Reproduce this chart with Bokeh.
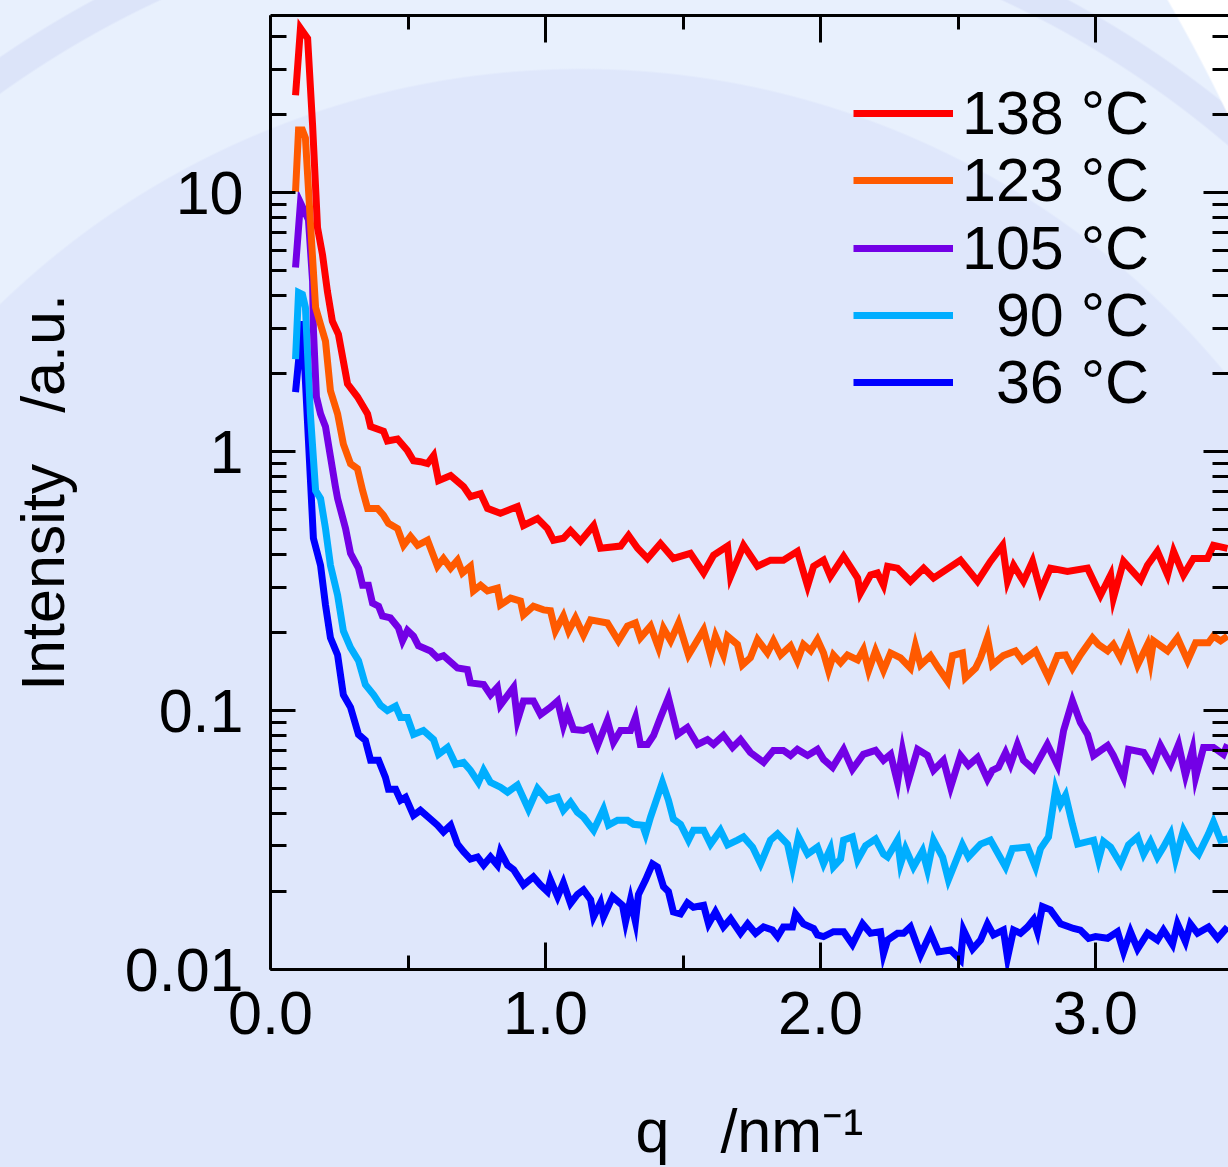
from bokeh.plotting import figure
from bokeh.models import (Range1d, LinearAxis, LogAxis, FixedTicker, NumeralTickFormatter,
                          CustomJSTickFormatter, Legend, LegendItem, GlobalInlineStyleSheet)
from bokeh.embed import file_html
from bokeh.resources import INLINE

# ---------------- data ----------------
q_138 = [0.091, 0.109, 0.135, 0.153, 0.171, 0.189, 0.207, 0.225, 0.247, 0.280,
         0.316, 0.353, 0.364, 0.411, 0.425, 0.462, 0.498, 0.520, 0.545, 0.571,
         0.593, 0.611, 0.655, 0.702, 0.727, 0.764, 0.789, 0.836, 0.898, 0.920,
         0.971, 1.007, 1.029, 1.065, 1.091, 1.127, 1.175, 1.200, 1.273, 1.302,
         1.335, 1.371, 1.418, 1.465, 1.527, 1.575, 1.611, 1.662, 1.673, 1.720,
         1.771, 1.818, 1.865, 1.916, 1.953, 1.975, 2.011, 2.036, 2.084, 2.135,
         2.145, 2.182, 2.207, 2.229, 2.244, 2.280, 2.327, 2.375, 2.411, 2.509,
         2.571, 2.618, 2.662, 2.680, 2.702, 2.738, 2.771, 2.800, 2.836, 2.898,
         2.971, 3.018, 3.055, 3.065, 3.102, 3.164, 3.189, 3.225, 3.262, 3.284,
         3.320, 3.356, 3.407, 3.429, 3.480]
I_138 = [23.8, 43.2, 39.5, 18.3, 7.33, 5.78, 4.16, 3.19, 2.84, 1.83,
         1.63, 1.40, 1.25, 1.20, 1.10, 1.12, 1.01, 0.923, 0.915, 0.900,
         0.966, 0.773, 0.809, 0.733, 0.671, 0.689, 0.604, 0.578, 0.614, 0.519,
         0.552, 0.505, 0.455, 0.463, 0.496, 0.451, 0.519, 0.424, 0.432, 0.475,
         0.424, 0.387, 0.442, 0.387, 0.405, 0.340, 0.398, 0.432, 0.330, 0.435,
         0.361, 0.381, 0.381, 0.412, 0.303, 0.361, 0.381, 0.330, 0.394, 0.325,
         0.284, 0.334, 0.340, 0.305, 0.361, 0.355, 0.316, 0.355, 0.325, 0.381,
         0.316, 0.377, 0.435, 0.316, 0.364, 0.316, 0.377, 0.290, 0.355, 0.345,
         0.355, 0.279, 0.334, 0.272, 0.377, 0.319, 0.364, 0.412, 0.334, 0.412,
         0.334, 0.387, 0.387, 0.435, 0.423]

q_123 = [0.091, 0.102, 0.116, 0.127, 0.145, 0.164, 0.182, 0.200, 0.218, 0.244,
         0.265, 0.291, 0.316, 0.335, 0.353, 0.389, 0.411, 0.429, 0.462, 0.484,
         0.509, 0.535, 0.571, 0.607, 0.629, 0.655, 0.680, 0.698, 0.727, 0.738,
         0.764, 0.789, 0.825, 0.836, 0.873, 0.909, 0.920, 0.956, 0.993, 1.018,
         1.036, 1.065, 1.084, 1.109, 1.138, 1.164, 1.225, 1.265, 1.298, 1.327,
         1.345, 1.382, 1.411, 1.429, 1.455, 1.484, 1.520, 1.575, 1.600, 1.618,
         1.647, 1.662, 1.698, 1.716, 1.745, 1.771, 1.807, 1.829, 1.855, 1.891,
         1.916, 1.938, 1.964, 1.989, 2.011, 2.029, 2.047, 2.073, 2.098, 2.135,
         2.156, 2.175, 2.200, 2.229, 2.255, 2.291, 2.327, 2.345, 2.364, 2.400,
         2.429, 2.462, 2.480, 2.516, 2.527, 2.564, 2.582, 2.607, 2.625, 2.665,
         2.709, 2.735, 2.782, 2.829, 2.862, 2.891, 2.916, 2.945, 2.989, 3.011,
         3.044, 3.065, 3.091, 3.120, 3.153, 3.189, 3.200, 3.211, 3.262, 3.298,
         3.335, 3.364, 3.411, 3.429, 3.455, 3.480]
I_123 = [10.1, 17.5, 17.5, 16.3, 7.73, 3.61, 3.10, 2.67, 1.72, 1.40,
         1.07, 0.899, 0.861, 0.708, 0.604, 0.604, 0.568, 0.529, 0.505, 0.435,
         0.471, 0.435, 0.455, 0.361, 0.387, 0.355, 0.381, 0.340, 0.361, 0.290,
         0.305, 0.290, 0.297, 0.256, 0.272, 0.265, 0.234, 0.253, 0.245, 0.243,
         0.203, 0.232, 0.203, 0.228, 0.196, 0.224, 0.218, 0.186, 0.212, 0.218,
         0.191, 0.212, 0.175, 0.208, 0.186, 0.218, 0.164, 0.205, 0.164, 0.194,
         0.164, 0.194, 0.180, 0.150, 0.160, 0.188, 0.167, 0.186, 0.164, 0.178,
         0.156, 0.180, 0.170, 0.188, 0.167, 0.143, 0.164, 0.153, 0.164, 0.157,
         0.172, 0.143, 0.170, 0.143, 0.167, 0.160, 0.146, 0.178, 0.150, 0.163,
         0.146, 0.130, 0.163, 0.167, 0.134, 0.146, 0.160, 0.191, 0.150, 0.163,
         0.170, 0.156, 0.170, 0.134, 0.163, 0.164, 0.146, 0.164, 0.191, 0.180,
         0.170, 0.180, 0.160, 0.191, 0.150, 0.180, 0.156, 0.186, 0.170, 0.191,
         0.156, 0.183, 0.183, 0.194, 0.186, 0.194]

q_105 = [0.091, 0.109, 0.138, 0.153, 0.156, 0.167, 0.182, 0.200, 0.218, 0.236,
         0.244, 0.273, 0.291, 0.320, 0.335, 0.356, 0.371, 0.393, 0.407, 0.436,
         0.465, 0.480, 0.498, 0.520, 0.538, 0.582, 0.607, 0.629, 0.680, 0.716,
         0.727, 0.775, 0.800, 0.825, 0.836, 0.884, 0.898, 0.920, 0.956, 0.982,
         1.018, 1.044, 1.065, 1.080, 1.102, 1.138, 1.164, 1.189, 1.225, 1.247,
         1.273, 1.309, 1.327, 1.345, 1.371, 1.393, 1.418, 1.447, 1.480, 1.516,
         1.553, 1.589, 1.611, 1.647, 1.680, 1.709, 1.745, 1.793, 1.829, 1.865,
         1.891, 1.916, 1.953, 1.989, 2.011, 2.044, 2.084, 2.116, 2.156, 2.200,
         2.229, 2.255, 2.280, 2.298, 2.320, 2.353, 2.389, 2.411, 2.447, 2.473,
         2.509, 2.538, 2.571, 2.607, 2.625, 2.647, 2.673, 2.691, 2.716, 2.738,
         2.775, 2.825, 2.862, 2.884, 2.916, 2.945, 2.971, 2.993, 3.044, 3.065,
         3.102, 3.120, 3.175, 3.207, 3.236, 3.273, 3.302, 3.327, 3.353, 3.364,
         3.393, 3.429, 3.465, 3.480]
I_105 = [5.15, 9.15, 7.87, 4.55, 2.97, 1.63, 1.40, 1.25, 0.957, 0.733,
         0.659, 0.505, 0.405, 0.355, 0.305, 0.305, 0.260, 0.253, 0.232, 0.228,
         0.209, 0.186, 0.204, 0.194, 0.178, 0.170, 0.160, 0.163, 0.146, 0.144,
         0.128, 0.126, 0.115, 0.123, 0.105, 0.123, 0.0916, 0.109, 0.109, 0.0966,
         0.103, 0.109, 0.0875, 0.0983, 0.0845, 0.0838, 0.0861, 0.0733, 0.0916, 0.0753,
         0.0838, 0.0838, 0.0940, 0.0740, 0.0740, 0.0802, 0.0940, 0.112, 0.0809, 0.0861,
         0.0740, 0.0773, 0.0740, 0.0802, 0.0721, 0.0773, 0.0689, 0.0631, 0.0702, 0.0702,
         0.0671, 0.0708, 0.0671, 0.0708, 0.0648, 0.0604, 0.0708, 0.0593, 0.0678, 0.0702,
         0.0643, 0.0678, 0.0528, 0.0702, 0.0538, 0.0708, 0.0671, 0.0588, 0.0643, 0.0506,
         0.0671, 0.0614, 0.0659, 0.0543, 0.0588, 0.0604, 0.0689, 0.0620, 0.0740, 0.0643,
         0.0593, 0.0740, 0.0614, 0.0838, 0.109, 0.0899, 0.0809, 0.0671, 0.0733, 0.0671,
         0.0552, 0.0708, 0.0689, 0.0604, 0.0733, 0.0620, 0.0740, 0.0562, 0.0708, 0.0552,
         0.0721, 0.0721, 0.0678, 0.0740]

q_90 = [0.091, 0.102, 0.116, 0.127, 0.145, 0.164, 0.182, 0.200, 0.218, 0.244,
        0.265, 0.291, 0.320, 0.345, 0.375, 0.400, 0.425, 0.455, 0.473, 0.498,
        0.520, 0.556, 0.593, 0.611, 0.644, 0.673, 0.702, 0.727, 0.756, 0.775,
        0.800, 0.836, 0.862, 0.898, 0.938, 0.971, 1.007, 1.044, 1.065, 1.091,
        1.116, 1.138, 1.175, 1.211, 1.229, 1.262, 1.298, 1.320, 1.353, 1.364,
        1.382, 1.425, 1.447, 1.465, 1.491, 1.520, 1.538, 1.575, 1.600, 1.636,
        1.662, 1.698, 1.720, 1.753, 1.782, 1.818, 1.844, 1.880, 1.898, 1.920,
        1.953, 1.989, 2.011, 2.036, 2.047, 2.073, 2.084, 2.116, 2.135, 2.164,
        2.200, 2.229, 2.244, 2.280, 2.291, 2.309, 2.338, 2.371, 2.389, 2.411,
        2.444, 2.465, 2.516, 2.538, 2.582, 2.618, 2.673, 2.698, 2.753, 2.782,
        2.800, 2.829, 2.855, 2.873, 2.891, 2.916, 2.935, 2.993, 3.011, 3.029,
        3.055, 3.091, 3.120, 3.153, 3.175, 3.200, 3.225, 3.247, 3.273, 3.291,
        3.320, 3.356, 3.375, 3.411, 3.429, 3.455, 3.480]
I_90 = [2.28, 4.12, 4.05, 3.61, 1.40, 0.708, 0.659, 0.505, 0.364, 0.279,
        0.203, 0.175, 0.156, 0.126, 0.115, 0.105, 0.100, 0.104, 0.0940, 0.0940,
        0.0809, 0.0838, 0.0773, 0.0678, 0.0721, 0.0620, 0.0631, 0.0588, 0.0528, 0.0588,
        0.0528, 0.0506, 0.0484, 0.0516, 0.0416, 0.0500, 0.0451, 0.0463, 0.0412, 0.0443,
        0.0405, 0.0388, 0.0345, 0.0416, 0.0361, 0.0377, 0.0377, 0.0364, 0.0361, 0.0334,
        0.0388, 0.0528, 0.0451, 0.0381, 0.0364, 0.0316, 0.0345, 0.0345, 0.0305, 0.0345,
        0.0303, 0.0316, 0.0325, 0.0297, 0.0256, 0.0316, 0.0334, 0.0305, 0.0249, 0.0325,
        0.0279, 0.0297, 0.0256, 0.0293, 0.0249, 0.0267, 0.0316, 0.0325, 0.0265, 0.0301,
        0.0319, 0.0279, 0.0272, 0.0316, 0.0256, 0.0293, 0.0249, 0.0287, 0.0243, 0.0316,
        0.0272, 0.0222, 0.0303, 0.0272, 0.0305, 0.0316, 0.0249, 0.0293, 0.0297, 0.0249,
        0.0293, 0.0325, 0.0497, 0.0435, 0.0471, 0.0364, 0.0305, 0.0316, 0.0265, 0.0312,
        0.0297, 0.0256, 0.0303, 0.0325, 0.0279, 0.0312, 0.0272, 0.0297, 0.0334, 0.0267,
        0.0345, 0.0293, 0.0279, 0.0334, 0.0371, 0.0316, 0.0319]

q_36 = [0.091, 0.116, 0.145, 0.156, 0.182, 0.200, 0.218, 0.244, 0.265, 0.291,
        0.320, 0.345, 0.364, 0.393, 0.418, 0.429, 0.455, 0.473, 0.491, 0.520,
        0.545, 0.582, 0.607, 0.629, 0.655, 0.680, 0.702, 0.727, 0.753, 0.775,
        0.800, 0.825, 0.836, 0.862, 0.884, 0.920, 0.956, 0.982, 1.007, 1.018,
        1.044, 1.065, 1.091, 1.116, 1.138, 1.164, 1.175, 1.200, 1.211, 1.244,
        1.280, 1.291, 1.309, 1.327, 1.338, 1.364, 1.389, 1.407, 1.429, 1.447,
        1.465, 1.491, 1.516, 1.538, 1.575, 1.593, 1.618, 1.647, 1.673, 1.709,
        1.735, 1.764, 1.793, 1.825, 1.844, 1.865, 1.898, 1.909, 1.938, 1.975,
        1.989, 2.011, 2.047, 2.084, 2.116, 2.153, 2.182, 2.218, 2.229, 2.244,
        2.280, 2.302, 2.327, 2.364, 2.400, 2.429, 2.473, 2.509, 2.520, 2.553,
        2.582, 2.607, 2.629, 2.665, 2.680, 2.702, 2.727, 2.753, 2.775, 2.789,
        2.807, 2.836, 2.873, 2.920, 2.945, 2.975, 3.000, 3.044, 3.080, 3.102,
        3.127, 3.153, 3.189, 3.225, 3.247, 3.280, 3.298, 3.327, 3.345, 3.371,
        3.411, 3.444, 3.480]
I_36 = [1.70, 3.19, 0.787, 0.463, 0.364, 0.256, 0.191, 0.164, 0.115, 0.103,
        0.0809, 0.0767, 0.0643, 0.0643, 0.0552, 0.0497, 0.0497, 0.0451, 0.0463, 0.0394,
        0.0412, 0.0381, 0.0361, 0.0340, 0.0361, 0.0305, 0.0285, 0.0267, 0.0272, 0.0253,
        0.0272, 0.0253, 0.0285, 0.0253, 0.0243, 0.0212, 0.0228, 0.0212, 0.0200, 0.0222,
        0.0191, 0.0216, 0.0180, 0.0195, 0.0203, 0.0186, 0.0160, 0.0181, 0.0160, 0.0191,
        0.0177, 0.0153, 0.0186, 0.0153, 0.0195, 0.0222, 0.0256, 0.0249, 0.0209, 0.0200,
        0.0167, 0.0164, 0.0181, 0.0174, 0.0177, 0.0150, 0.0167, 0.0146, 0.0157, 0.0138,
        0.0150, 0.0138, 0.0146, 0.0142, 0.0134, 0.0146, 0.0146, 0.0164, 0.0150, 0.0144,
        0.0136, 0.0134, 0.0140, 0.0140, 0.0125, 0.0150, 0.0138, 0.0140, 0.0115, 0.0130,
        0.0138, 0.0138, 0.0146, 0.0114, 0.0138, 0.0117, 0.0119, 0.0109, 0.0142, 0.0120,
        0.0130, 0.0150, 0.0136, 0.0142, 0.0111, 0.0142, 0.0138, 0.0146, 0.0156, 0.0140,
        0.0175, 0.0170, 0.0150, 0.0144, 0.0142, 0.0132, 0.0134, 0.0132, 0.0140, 0.0117,
        0.0140, 0.0120, 0.0138, 0.0130, 0.0142, 0.0125, 0.0150, 0.0128, 0.0150, 0.0138,
        0.0146, 0.0132, 0.0146]

series_labels = ["138 °C", "123 °C", "105 °C", "\u200790 °C", "\u200736 °C"]
series_colors = ["#FF0000", "#FF5A00", "#7300E6", "#00AEFF", "#0000FF"]

x_major = [0, 1, 2, 3]
x_minor = [0.5, 1.5, 2.5]
y_major = [0.01, 0.1, 1, 10]
y_minor = [m * d for d in (0.01, 0.1, 1, 10) for m in range(2, 10) if m * d < 48]

FONT = "Liberation Sans"

# ---------------- figure ----------------
p = figure(width=1228, height=1167, output_backend="svg", toolbar_location=None,
           y_axis_type="log", x_range=Range1d(0, 3.4836), y_range=Range1d(0.01, 48.4),
           min_border_left=270, min_border_right=0, min_border_top=15, min_border_bottom=195)
p.border_fill_color = None
p.background_fill_color = None
p.outline_line_color = None
p.grid.visible = False

p.stylesheets = [GlobalInlineStyleSheet(css="""
html {
  background-color: #DFE7FB;
  background-image:
    radial-gradient(circle 1741px at -341px 867px, rgba(255,255,255,0) 1739px, #FFFFFF 1741px),
    radial-gradient(circle at 581px 904px, #DFE7FB 834px, #E8F0FD 836px, #E8F0FD 996px,
                    #DCE4F9 998px, #DCE4F9 1026px, #E8F0FD 1028px);
}
""")]


def style_axis(ax, major_in, minor_in, labels=True):
    ax.axis_line_color = "black"
    ax.axis_line_width = 3
    ax.major_tick_in = major_in
    ax.major_tick_out = 0
    ax.minor_tick_in = minor_in
    ax.minor_tick_out = 0
    ax.major_tick_line_color = "black"
    ax.minor_tick_line_color = "black"
    ax.major_tick_line_width = 3
    ax.minor_tick_line_width = 3
    ax.major_label_text_font = FONT
    ax.major_label_text_color = "black"
    if labels:
        ax.major_label_text_font_size = "61px"
    else:
        ax.major_label_text_font_size = "0px"
        ax.major_label_standoff = 0
        ax.formatter = CustomJSTickFormatter(code="return ''")


xt = FixedTicker(ticks=x_major, minor_ticks=x_minor)
yt = FixedTicker(ticks=y_major, minor_ticks=y_minor)

xb = p.xaxis[0]
xb.ticker = xt
xb.formatter = NumeralTickFormatter(format="0.0")
style_axis(xb, 27, 14)
xb.major_label_standoff = 22
xb.axis_label = "q\u00a0\u00a0\u00a0/nm\u207b\u00b9"
xb.axis_label_text_font = FONT
xb.axis_label_text_font_size = "61px"
xb.axis_label_text_font_style = "normal"
xb.axis_label_text_color = "black"
xb.axis_label_standoff = 60

yl = p.yaxis[0]
yl.ticker = yt
yl.formatter = CustomJSTickFormatter(code="return String(tick)")
style_axis(yl, 25, 16)
yl.major_label_standoff = 27
yl.axis_label = "Intensity\u00a0\u00a0\u00a0/a.u."
yl.axis_label_text_font = FONT
yl.axis_label_text_font_size = "61px"
yl.axis_label_text_font_style = "normal"
yl.axis_label_text_color = "black"
yl.axis_label_standoff = 45

xtop = LinearAxis(ticker=xt)
style_axis(xtop, 27, 14, labels=False)
p.add_layout(xtop, "above")

yr = LogAxis(ticker=yt)
style_axis(yr, 25, 16, labels=False)
yr.axis_line_color = None
p.add_layout(yr, "right")

# ---------------- lines ----------------
data = [(q_138, I_138), (q_123, I_123), (q_105, I_105), (q_90, I_90), (q_36, I_36)]
renderers = [None] * 5
for i in [4, 3, 2, 1, 0]:
    qx, iy = data[i]
    renderers[i] = p.line(qx, iy, line_color=series_colors[i], line_width=7, line_join="miter")

# one legend box per row, so the row pitch matches the original (67.5 px)
legend_rows_y = [821, 754, 686, 619, 552]
for i in range(5):
    lg = Legend(items=[LegendItem(label=series_labels[i], renderers=[renderers[i]])],
                location=(583, legend_rows_y[i]), glyph_width=100, glyph_height=56, label_height=56,
                label_standoff=9, spacing=0, padding=0, margin=0,
                border_line_color=None, background_fill_alpha=0,
                label_text_font=FONT, label_text_font_size="61px", label_text_color="black")
    p.add_layout(lg)

open("out.html", "w").write(file_html(p, INLINE))
